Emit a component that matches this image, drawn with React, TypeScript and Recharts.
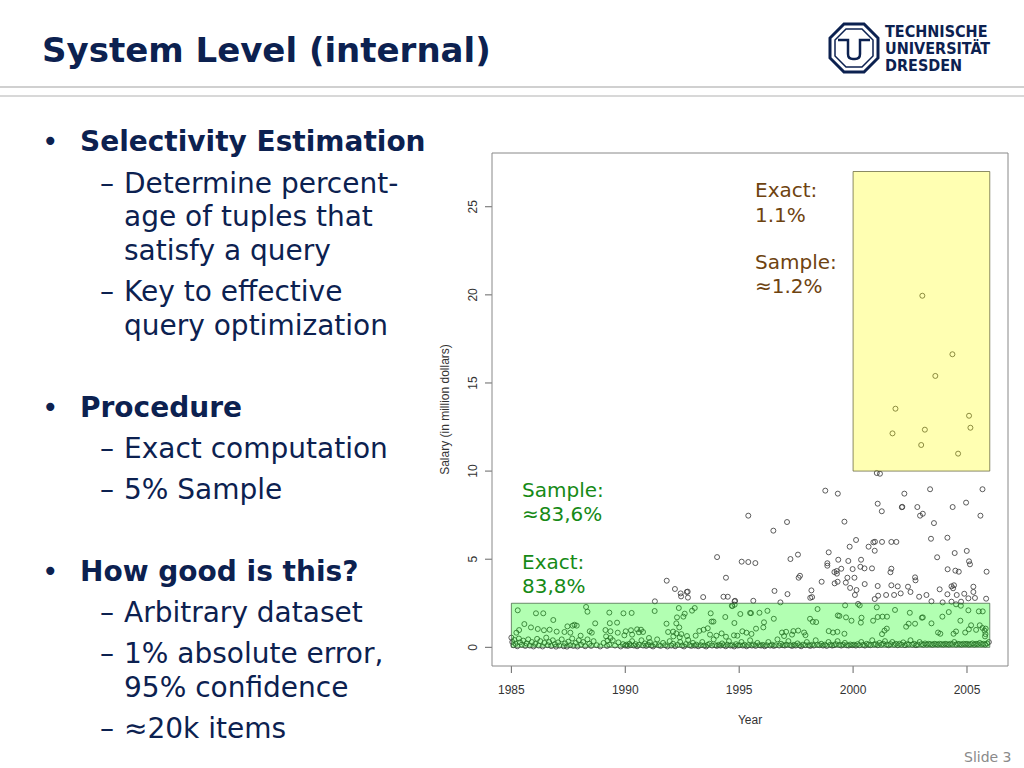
import { ScatterChart, Scatter, XAxis, YAxis, ReferenceArea } from 'recharts';

// axis ticks
const xTicks = [1985, 1990, 1995, 2000, 2005];
const yTicks = [0, 5, 10, 15, 20, 25];

// highlighted query ranges (year / salary)
const greenBox = [1985, 2006, 0, 2.5];
const yellowBox = [2000, 2006, 10, 27];

// points in the yellow range
const topPoints: [number, number][] = [
    [2003.04, 19.95], [2004.36, 16.63], [2003.61, 15.4], [2001.86, 13.54], [2005.09, 13.14],
    [2001.73, 12.14], [2003.15, 12.35], [2005.15, 12.46], [2002.99, 11.48], [2004.61, 10.99],
    [2001.04, 9.89], [2001.18, 9.85],
];

// points between the boxes
const upperPoints: [number, number][] = [
    [1998.78, 8.89], [1999.33, 8.72], [2002.25, 8.72], [2003.38, 8.97], [2005.68, 8.97],
    [2001.08, 8.15], [2001.26, 7.72], [2002.14, 7.95], [2002.16, 7.97], [2002.82, 7.96], [2004.37, 7.96], [2004.96, 8.21],
    [2003.06, 7.58], [2002.94, 7.47], [2005.59, 7.47], [2003.55, 7.05], [1997.1, 7.11], [1999.62, 7.13], [1996.5, 6.62], [1995.4, 7.47],
    [2000.13, 6.09], [1999.85, 5.71], [2000.68, 5.71], [2000.89, 5.96], [2000.96, 5.99], [2001.27, 5.98], [2001.68, 5.98], [2001.9, 5.98], [2003.42, 6.16], [2004.14, 6.22],
    [1998.93, 5.39], [2000.95, 5.48], [1997.25, 5.01], [1997.58, 5.26], [2003.69, 5.11], [2004.46, 5.35], [2004.99, 5.47],
    [1994.03, 5.12], [1995.11, 4.86], [1995.4, 4.84], [1995.71, 4.78],
    [1999.35, 4.97], [1999.79, 4.9], [2000.35, 4.97], [1998.87, 4.77], [1998.87, 4.63], [2005.09, 4.88], [2005.13, 4.71], [2005.86, 4.29],
    [1999.18, 4.27], [1999.28, 4.33], [1999.29, 4.18], [1999.48, 4.46], [1999.98, 4.44], [2000.32, 4.57], [2000.5, 4.48], [2000.83, 4.48],
    [2001.68, 4.46], [2001.64, 4.26], [2004.15, 4.43], [2004.49, 4.35], [2004.64, 4.29],
    [1997.67, 4.06], [1997.61, 3.95], [1998.62, 3.72], [1999.19, 3.63], [1999.32, 3.72], [1999.75, 3.95], [2000.06, 3.95], [1999.68, 3.67],
    [1999.87, 3.37], [2000.51, 3.59], [2001.08, 3.48], [2001.68, 3.52], [2001.96, 3.46], [2002.41, 3.44], [2002.72, 3.97], [2002.74, 3.8],
    [2004.32, 3.46], [2004.43, 3.52], [2004.39, 3.35], [2005.28, 3.44], [2005.28, 3.14],
    [1994.42, 3.95], [1991.82, 3.78], [1992.18, 3.31], [1992.43, 3.06], [1992.45, 2.89], [1992.7, 3.14], [1992.74, 3.16], [1992.75, 2.82],
    [1993.42, 2.85], [1994.31, 2.87], [1994.5, 2.87], [1994.82, 2.64], [1994.8, 2.61], [1995.62, 2.64], [1991.3, 2.61],
    [1996.55, 3.2], [1998.17, 3.23], [1998.12, 2.81], [1998.2, 2.85], [2000.15, 3.25], [2000.08, 2.97], [1997.12, 3.02], [2001.1, 2.93],
    [2001.45, 2.97], [2001.8, 2.97], [2002.09, 3.06], [2002.52, 3.14], [2002.9, 2.87], [2003.22, 2.97], [2003.8, 3.29], [2004.14, 3.01],
    [2004.55, 2.97], [2004.88, 3.04], [2005.06, 2.78], [2005.35, 2.8], [2005.84, 2.76], [1996.81, 2.55], [2000.95, 2.74],
    [2003.44, 2.61], [2003.93, 2.55], [2004.32, 2.59], [2004.52, 2.44], [2004.74, 2.59],
];

// points in the green range, middle part
const bandPoints: [number, number][] = [
    [1985.28, 2.1], [1986.08, 1.93], [1986.4, 1.93], [1986.84, 1.55], [1988.28, 2.29], [1988.34, 2.02], [1988.68, 1.36],
    [1989.3, 1.97], [1989.92, 1.93], [1990.28, 1.95], [1989.32, 1.37], [1989.64, 1.4], [1991.29, 2.06],
    [1992.35, 2.23], [1992.61, 1.91], [1992.93, 2.08], [1993.05, 2.23], [1992.27, 1.7], [1992.55, 1.74], [1992.24, 1.36], [1992.37, 1.13],
    [1991.81, 1.34], [1993.75, 1.93], [1993.79, 1.46], [1993.87, 1.46], [1994.39, 1.72], [1994.7, 2.34], [1994.8, 2.42], [1994.68, 2.36],
    [1995.05, 1.89], [1995.48, 1.95], [1994.79, 1.38], [1987.77, 1.28], [1987.69, 1.23], [1987.87, 1.23], [1987.46, 1.19],
    [1985.57, 1.32], [1985.86, 1.13], [1986.16, 1.04], [1985.34, 0.98], [1985.22, 0.83], [1986.43, 0.97], [1986.68, 1.0], [1986.99, 0.89],
    [1987.33, 0.87], [1987.59, 0.83], [1988.44, 0.91], [1988.53, 0.83], [1988.04, 0.66], [1989.13, 0.98], [1989.35, 0.91],
    [1989.67, 0.83], [1990.02, 0.91], [1990.25, 0.97], [1990.52, 1.02], [1990.69, 1.0], [1989.96, 0.68], [1990.3, 0.72], [1990.6, 0.85],
    [1990.78, 0.87], [1989.16, 0.62], [1989.35, 0.53], [1989.22, 0.38], [1991.04, 0.53], [1991.88, 0.87], [1992.1, 0.89], [1992.24, 0.79],
    [1992.46, 0.75], [1992.11, 0.62], [1992.39, 0.57], [1992.71, 0.64], [1993.09, 0.66], [1993.44, 1.0], [1993.62, 1.08], [1993.25, 0.93],
    [1993.72, 0.72], [1994.0, 0.66], [1994.23, 0.79], [1994.42, 0.6], [1994.77, 0.68], [1994.92, 0.66], [1995.14, 0.91], [1995.32, 0.83],
    [1995.54, 0.76],
    [1995.52, 1.94], [1995.89, 1.96], [1996.24, 2.07], [1996.09, 1.42], [1996.52, 1.62], [1995.74, 1.06], [1996.06, 1.13],
    [1998.44, 2.17], [1998.11, 1.62], [1998.23, 1.45], [1998.38, 1.43], [1999.33, 1.81], [1999.4, 1.78], [1999.65, 2.38],
    [2000.22, 2.46], [2000.29, 2.38], [1999.69, 1.7], [1999.93, 1.51], [2000.37, 1.68], [2000.34, 1.4], [2000.88, 1.51], [2001.08, 1.72],
    [2001.29, 1.74], [2001.49, 1.74], [2001.04, 2.27], [2001.84, 2.12], [2002.49, 1.96], [2002.44, 1.34], [2002.33, 1.17], [2002.72, 1.34],
    [2003.06, 1.7], [2003.02, 1.68], [2003.92, 1.74], [2003.44, 1.36], [2004.73, 2.36], [2005.06, 2.1], [2005.52, 2.04], [2005.69, 2.04],
    [2004.2, 2.0], [2004.71, 1.51], [2005.18, 1.25], [2005.08, 1.02], [2005.56, 1.25], [2005.68, 1.1], [2005.82, 1.06],
    [1996.88, 0.84], [1997.06, 0.88], [1997.38, 0.92], [1997.59, 0.95], [1997.85, 0.84], [1997.91, 0.69], [1996.97, 0.64], [1997.32, 0.72],
    [1998.93, 0.92], [1999.12, 0.84], [1999.31, 0.88], [1999.62, 0.77], [2001.38, 0.95], [2001.48, 1.06], [2001.27, 0.75],
    [2003.73, 0.84], [2003.83, 0.77], [2004.41, 0.77], [2004.52, 0.9], [2004.92, 0.84], [2005.4, 0.99], [2005.77, 0.95], [2005.81, 0.75],
    [2005.79, 0.62],
];

// dense points near zero salary
const floorPoints: [number, number][] = [
    [1985.0, 0.55], [1985.04, 0.3], [1985.09, 0.12], [1985.13, 0.42], [1985.18, 0.2], [1985.26, 0.06], [1985.33, 0.5], [1985.38, 0.28],
    [1985.46, 0.15], [1985.52, 0.38], [1985.61, 0.08], [1985.67, 0.22], [1985.74, 0.45], [1985.81, 0.1], [1985.9, 0.3], [1985.97, 0.05],
    [1986.05, 0.2], [1986.13, 0.48], [1986.2, 0.1], [1986.27, 0.35], [1986.37, 0.05], [1986.45, 0.25], [1986.53, 0.55], [1986.6, 0.12],
    [1986.66, 0.3], [1986.75, 0.07], [1986.82, 0.4], [1986.91, 0.18], [1986.96, 0.04],
    [1987.05, 0.28], [1987.11, 0.1], [1987.21, 0.45], [1987.3, 0.06], [1987.36, 0.22], [1987.44, 0.04], [1987.5, 0.32], [1987.58, 0.12],
    [1987.67, 0.5], [1987.72, 0.08], [1987.83, 0.25], [1987.9, 0.05], [1987.96, 0.4],
    [1988.06, 0.15], [1988.15, 0.3], [1988.24, 0.06], [1988.34, 0.45], [1988.42, 0.2], [1988.5, 0.08], [1988.61, 0.35], [1988.75, 0.12],
    [1988.9, 0.05], [1989.05, 0.25], [1989.2, 0.08], [1989.3, 0.15], [1989.45, 0.4], [1989.55, 0.1], [1989.7, 0.28], [1989.8, 0.05],
    [1989.9, 0.18],
    [1990.0, 0.1], [1990.05, 0.15], [1990.11, 0.08], [1990.18, 0.2], [1990.24, 0.12], [1990.3, 0.35], [1990.38, 0.1], [1990.45, 0.18],
    [1990.52, 0.06], [1990.6, 0.14], [1990.71, 0.4], [1990.78, 0.1], [1990.86, 0.22], [1990.92, 0.08],
    [1991.0, 0.15], [1991.08, 0.3], [1991.15, 0.1], [1991.22, 0.05], [1991.31, 0.18], [1991.4, 0.45], [1991.47, 0.12], [1991.55, 0.08],
    [1991.66, 0.25], [1991.75, 0.12], [1991.85, 0.05], [1991.95, 0.35],
    [1992.02, 0.1], [1992.1, 0.2], [1992.19, 0.06], [1992.3, 0.14], [1992.41, 0.3], [1992.5, 0.1], [1992.58, 0.05], [1992.66, 0.18],
    [1992.76, 0.42], [1992.82, 0.12], [1992.9, 0.08], [1992.97, 0.25],
    [1993.05, 0.1], [1993.12, 0.15], [1993.2, 0.06], [1993.31, 0.12], [1993.38, 0.3], [1993.46, 0.1], [1993.55, 0.05], [1993.62, 0.14],
    [1993.7, 0.2], [1993.81, 0.1], [1993.88, 0.45], [1993.95, 0.12],
    [1994.02, 0.08], [1994.1, 0.14], [1994.18, 0.1], [1994.25, 0.22], [1994.32, 0.12], [1994.41, 0.06], [1994.48, 0.15], [1994.55, 0.35],
    [1994.62, 0.1], [1994.7, 0.12], [1994.78, 0.05], [1994.86, 0.18], [1994.94, 0.1],
    [1995.02, 0.12], [1995.1, 0.3], [1995.16, 0.1], [1995.24, 0.14], [1995.32, 0.06], [1995.4, 0.12], [1995.48, 0.4], [1995.56, 0.1],
    [1995.64, 0.15], [1995.72, 0.08], [1995.8, 0.25], [1995.88, 0.12], [1995.96, 0.1],
    [1996.04, 0.14], [1996.12, 0.06], [1996.2, 0.12], [1996.28, 0.3], [1996.36, 0.1], [1996.44, 0.15], [1996.52, 0.08], [1996.6, 0.12],
    [1996.68, 0.45], [1996.76, 0.1], [1996.84, 0.2], [1996.92, 0.12],
    [1997.0, 0.1], [1997.08, 0.15], [1997.16, 0.35], [1997.24, 0.12], [1997.32, 0.08], [1997.4, 0.14], [1997.48, 0.1], [1997.56, 0.22],
    [1997.64, 0.12], [1997.72, 0.06], [1997.8, 0.15], [1997.9, 0.12], [1997.97, 0.3],
    [1998.05, 0.12], [1998.12, 0.08], [1998.2, 0.15], [1998.28, 0.1], [1998.36, 0.4], [1998.44, 0.14], [1998.52, 0.12], [1998.6, 0.2],
    [1998.68, 0.1], [1998.76, 0.15], [1998.84, 0.08], [1998.92, 0.3],
    [1999.0, 0.15], [1999.08, 0.1], [1999.16, 0.12], [1999.24, 0.18], [1999.32, 0.35], [1999.4, 0.14], [1999.48, 0.1], [1999.56, 0.15],
    [1999.64, 0.25], [1999.72, 0.12], [1999.8, 0.1], [1999.88, 0.16], [1999.96, 0.12],
    [2000.04, 0.15], [2000.12, 0.1], [2000.2, 0.18], [2000.28, 0.12], [2000.36, 0.3], [2000.44, 0.14], [2000.52, 0.1], [2000.6, 0.2],
    [2000.68, 0.15], [2000.76, 0.12], [2000.84, 0.4], [2000.92, 0.16],
    [2001.0, 0.18], [2001.08, 0.12], [2001.16, 0.25], [2001.24, 0.15], [2001.32, 0.2], [2001.4, 0.35], [2001.48, 0.16], [2001.56, 0.12],
    [2001.64, 0.18], [2001.72, 0.3], [2001.8, 0.15], [2001.88, 0.2], [2001.96, 0.12],
    [2002.04, 0.2], [2002.12, 0.15], [2002.2, 0.28], [2002.28, 0.12], [2002.36, 0.18], [2002.44, 0.16], [2002.52, 0.4], [2002.6, 0.15],
    [2002.68, 0.2], [2002.76, 0.12], [2002.84, 0.16], [2002.92, 0.3],
    [2003.0, 0.18], [2003.08, 0.15], [2003.16, 0.22], [2003.24, 0.16], [2003.32, 0.2], [2003.4, 0.18], [2003.48, 0.15], [2003.56, 0.2],
    [2003.64, 0.18], [2003.72, 0.16], [2003.8, 0.2], [2003.88, 0.18], [2003.96, 0.16],
    [2004.04, 0.2], [2004.12, 0.18], [2004.2, 0.16], [2004.28, 0.2], [2004.36, 0.18], [2004.44, 0.3], [2004.52, 0.16], [2004.6, 0.2],
    [2004.68, 0.18], [2004.76, 0.16], [2004.84, 0.2], [2004.92, 0.18],
    [2005.0, 0.2], [2005.08, 0.16], [2005.16, 0.18], [2005.24, 0.22], [2005.32, 0.16], [2005.4, 0.2], [2005.48, 0.18], [2005.56, 0.25],
    [2005.64, 0.18], [2005.72, 0.2], [2005.8, 0.16], [2005.88, 0.22], [2005.96, 0.3],
];

const allPoints = [...floorPoints, ...bandPoints, ...upperPoints, ...topPoints].map(([x, y]) => ({ x, y }));

const NAVY = '#0c2150';
const FONT = '"DejaVu Sans", Verdana, sans-serif';
const RFONT = '"Liberation Sans", Arial, sans-serif';
const NARROW = '"Liberation Sans Narrow", "DejaVu Sans Condensed", sans-serif';

const slideLines = [
    { text: 'Selectivity Estimation', level: 0, y: 142 },
    { text: 'Determine percent-', level: 1, y: 184 },
    { text: 'age of tuples that', level: 2, y: 217 },
    { text: 'satisfy a query', level: 2, y: 251 },
    { text: 'Key to effective', level: 1, y: 292 },
    { text: 'query optimization', level: 2, y: 326 },
    { text: 'Procedure', level: 0, y: 408 },
    { text: 'Exact computation', level: 1, y: 449 },
    { text: '5% Sample', level: 1, y: 490 },
    { text: 'How good is this?', level: 0, y: 572 },
    { text: 'Arbitrary dataset', level: 1, y: 613 },
    { text: '1% absolute error,', level: 1, y: 654 },
    { text: '95% confidence', level: 2, y: 688 },
    { text: '≈20k items', level: 1, y: 729 },
];

const notes = [
    { text: 'Exact:', x: 755, y: 190, color: '#6e4310' },
    { text: '1.1%', x: 755, y: 215, color: '#6e4310' },
    { text: 'Sample:', x: 755, y: 262, color: '#6e4310' },
    { text: '≈1.2%', x: 755, y: 286, color: '#6e4310' },
    { text: 'Sample:', x: 522, y: 490, color: '#168a16' },
    { text: '≈83,6%', x: 522, y: 514, color: '#168a16' },
    { text: 'Exact:', x: 522, y: 562, color: '#168a16' },
    { text: '83,8%', x: 522, y: 586, color: '#168a16' },
];

const logoLines = ['TECHNISCHE', 'UNIVERSITÄT', 'DRESDEN'];

// eslint-disable-next-line @typescript-eslint/no-explicit-any
const YTick = ({ y, payload }: any) => (
    <text
        x={43}
        y={y}
        transform={`rotate(-90, 43, ${y})`}
        textAnchor="middle"
        dominantBaseline="central"
        fontSize={12}
        fontFamily={RFONT}
        fill="#333"
    >
        {payload.value}
    </text>
);

// eslint-disable-next-line @typescript-eslint/no-explicit-any
const Ring = (p: any) => <circle cx={p.cx} cy={p.cy} r={2.5} fill="none" stroke="#333" strokeWidth={0.8} />;

function Logo() {
    return (
        <svg width={185} height={62} style={{ position: 'absolute', left: 826, top: 20 }}>
            <path d="M18,4 H38 L52,18 V38 L38,52 H18 L4,38 V18 Z" fill="none" stroke={NAVY} strokeWidth={3} />
            <path d="M20,9 H36 L47,20 V36 L36,47 H20 L9,36 V20 Z" fill="none" stroke={NAVY} strokeWidth={1.5} />
            <path d="M12,20 H22 V34 Q22,39 27,39 H29 Q34,39 34,34 V20 H44" fill="none" stroke={NAVY} strokeWidth={2.5} />
            {logoLines.map((t, i) => (
                <text key={t} x={59} y={17 + i * 17} fontFamily={NARROW} fontWeight="bold" fontSize={16} fill={NAVY}>
                    {t}
                </text>
            ))}
        </svg>
    );
}

export default function App() {
    return (
        <div style={{ position: 'absolute', left: 0, top: 0, width: 1024, height: 768, background: '#fff', overflow: 'hidden' }}>
            <div style={{ position: 'absolute', left: 42, top: 30, fontFamily: FONT, fontWeight: 'bold', fontSize: 34, lineHeight: '40px', color: NAVY }}>
                System Level (internal)
            </div>
            <Logo />
            <div style={{ position: 'absolute', left: 0, top: 86, width: 1024, height: 2, background: '#d0d0d0' }} />
            <div style={{ position: 'absolute', left: 0, top: 95, width: 1024, height: 2, background: '#d8d8d8' }} />

            {slideLines.map((l) => (
                <div key={l.text} style={{ position: 'absolute', top: l.y - 17, left: 0, height: 34, lineHeight: '34px', fontFamily: FONT, fontSize: 28, color: NAVY, whiteSpace: 'nowrap' }}>
                    {l.level === 0 && <span style={{ position: 'absolute', left: 42 }}>•</span>}
                    {l.level === 1 && <span style={{ position: 'absolute', left: 100 }}>–</span>}
                    <span style={{ position: 'absolute', left: l.level === 0 ? 80 : 124, fontWeight: l.level === 0 ? 'bold' : 'normal' }}>{l.text}</span>
                </div>
            ))}

            <div style={{ position: 'absolute', left: 430, top: 140 }}>
                <ScatterChart width={590} height={600} margin={{ top: 13, right: 12, bottom: 44, left: 0 }}>
                    <XAxis
                        type="number"
                        dataKey="x"
                        domain={[1984.15, 2006.8]}
                        ticks={xTicks}
                        allowDataOverflow
                        height={30}
                        axisLine={false}
                        tickSize={7}
                        tickMargin={12}
                        tickLine={{ stroke: '#666' }}
                        tick={{ fontSize: 12, fontFamily: RFONT, fill: '#333' }}
                        label={{ value: 'Year', position: 'bottom', offset: 19, fontSize: 12, fontFamily: RFONT, fill: '#333' }}
                    />
                    <YAxis
                        type="number"
                        dataKey="y"
                        domain={[-1.06, 28.05]}
                        ticks={yTicks}
                        allowDataOverflow
                        width={62}
                        axisLine={false}
                        tickSize={7}
                        tickLine={{ stroke: '#666' }}
                        tick={<YTick />}
                        label={{
                            value: 'Salary (in million dollars)',
                            angle: -90,
                            position: 'insideLeft',
                            offset: 15,
                            fontSize: 12,
                            fontFamily: RFONT,
                            fill: '#333',
                            style: { textAnchor: 'middle' },
                        }}
                    />
                    <Scatter data={allPoints} shape={Ring} isAnimationActive={false} />
                    <ReferenceArea
                        x1={greenBox[0]} x2={greenBox[1]} y1={greenBox[2]} y2={greenBox[3]}
                        fill="#00ff00" fillOpacity={0.3} stroke="#3a5a3a" strokeOpacity={0.7} zIndex={700}
                    />
                    <ReferenceArea
                        x1={yellowBox[0]} x2={yellowBox[1]} y1={yellowBox[2]} y2={yellowBox[3]}
                        fill="#ffff00" fillOpacity={0.3} stroke="#5a5a30" strokeOpacity={0.7} zIndex={700}
                    />
                    <ReferenceArea
                        x1={1984.15} x2={2006.8} y1={-1.06} y2={28.05}
                        fill="none" stroke="#888" strokeWidth={1} zIndex={700}
                    />
                </ScatterChart>
            </div>

            {notes.map((n, i) => (
                <div key={i} style={{ position: 'absolute', left: n.x, top: n.y - 12, lineHeight: '24px', fontFamily: FONT, fontSize: 20, color: n.color, whiteSpace: 'nowrap' }}>
                    {n.text}
                </div>
            ))}

            <div style={{ position: 'absolute', left: 964, top: 749, fontFamily: FONT, fontSize: 14, color: '#8a8a8a' }}>Slide 3</div>
        </div>
    );
}
